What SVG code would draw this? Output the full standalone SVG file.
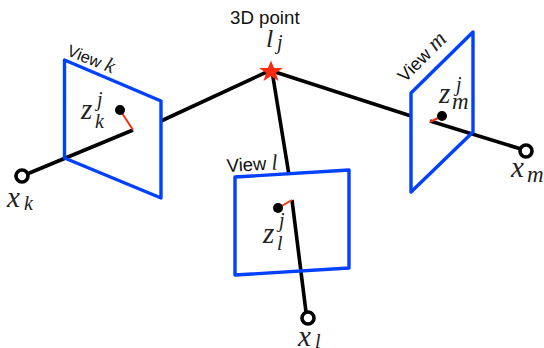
<svg xmlns="http://www.w3.org/2000/svg" width="544" height="348" viewBox="0 0 544 348">
<style>
.plane{fill:none;stroke:#0040ff;stroke-width:3.400;stroke-linejoin:round}
.ray{fill:none;stroke:#000;stroke-width:3.600;stroke-linecap:butt}
.err{fill:none;stroke:#f5300f;stroke-width:2}
.cam{fill:#fff;stroke:#000;stroke-width:3.600}
.pt{fill:#000}
.s{font-family:"Liberation Sans",Arial,sans-serif;fill:#111}
.m{font-family:"Liberation Serif","Times New Roman",serif;font-style:italic;fill:#222}
.b{font-size:29px}.u{font-size:20px}
</style>
<rect width="544" height="348" fill="#fff"/>
<g id="connectors">
<path class="ray" d="M27 174L133 130"/>
<path class="ray" d="M161 121L271 70"/>
<path class="ray" d="M272 71L289 175"/>
<path class="ray" d="M292 200L306 312"/>
<path class="ray" d="M272 71L411 116"/>
<path class="ray" d="M430 121L521 149"/>
</g>
<g id="view-k">
<path class="plane" d="M64.500 60L161 101V198L64.500 158Z"/>
<path class="err" d="M120 110L133 130"/>
<circle class="pt" cx="120" cy="110" r="5"/>
<text class="s" font-size="16.500" transform="translate(66 55) rotate(22)">View <tspan class="m" font-size="21">k</tspan></text>
<text class="m b" x="81" y="119">z</text><text class="m u" x="97" y="106">j</text><text class="m u" x="95" y="128">k</text>
</g>
<g id="view-l">
<path class="plane" d="M235 177L349 170V268L235 275Z"/>
<path class="err" d="M278 208L292 200"/>
<circle class="pt" cx="278" cy="208" r="5"/>
<text class="s" font-size="18.500" transform="translate(227 172) rotate(-3)">View <tspan class="m" font-size="22">l</tspan></text>
<text class="m b" x="263" y="243">z</text><text class="m u" x="279" y="227">j</text><text class="m u" x="277" y="250">l</text>
</g>
<g id="view-m">
<path class="plane" d="M411 93L473 32V132L411 192Z"/>
<path class="err" d="M430 122L442 116"/>
<circle class="pt" cx="442" cy="116" r="5"/>
<text class="s" font-size="18" transform="translate(405 83) rotate(-45)">View <tspan class="m" font-size="23">m</tspan></text>
<text class="m b" x="439" y="103">z</text><text class="m u" x="456" y="91">j</text><text class="m" font-size="23" x="452" y="109">m</text>
</g>
<g id="point-lj">
<path fill="#fb2a10" d="M271 60.500L274 68H283L275.800 73L278.500 81L271 76L263.500 81L266.200 73L259 68H268Z"/>
<text class="s" font-size="18.700" x="230" y="24">3D point</text>
<text class="m" font-size="26" x="266" y="47">l</text><text class="m u" x="277" y="49">j</text>
</g>
<g id="camera-k">
<circle class="cam" cx="22" cy="176" r="6"/>
<text class="m b" x="7" y="207">x</text><text class="m u" x="24" y="210">k</text>
</g>
<g id="camera-l">
<circle class="cam" cx="308" cy="318" r="6"/>
<text class="m b" x="298" y="346">x</text><text class="m u" x="315" y="348">l</text>
</g>
<g id="camera-m">
<circle class="cam" cx="526" cy="151" r="6"/>
<text class="m b" x="511" y="177">x</text><text class="m" font-size="23" x="527" y="182">m</text>
</g>
</svg>
